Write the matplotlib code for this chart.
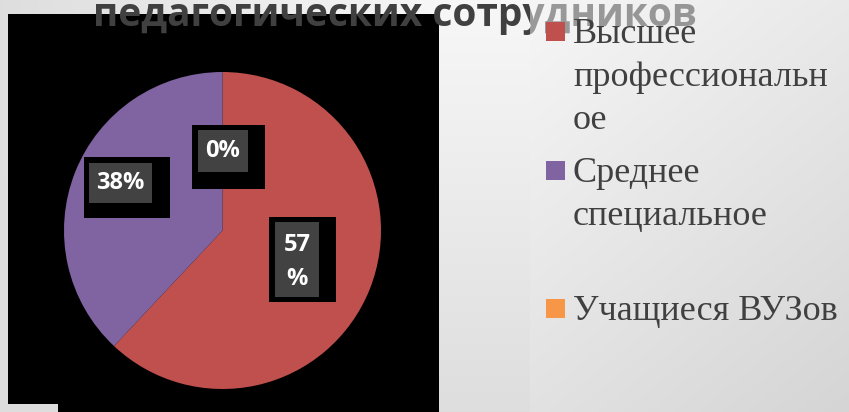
import matplotlib
matplotlib.use('Agg')
import matplotlib.pyplot as plt
import numpy as np
from matplotlib.patches import Rectangle, Polygon

# ---- data ----
title = 'педагогических сотрудников'
categories = ['Высшее профессиональное', 'Среднее специальное', 'Учащиеся ВУЗов']
legend_lines = [['Высшее', 'профессиональн', 'ое'],
                ['Среднее', 'специальное'],
                ['Учащиеся ВУЗов']]
shares = [62, 38, 0]
label_texts = ['57\n%', '38%', '0%']
colors = ['#c0504d', '#8064a2', '#f79646']

W, H = 849, 412
fig = plt.figure(figsize=(W / 100, H / 100), dpi=100)

# background axes in pixel coordinates
bg = fig.add_axes([0, 0, 1, 1])
bg.set_xlim(0, W)
bg.set_ylim(H, 0)
bg.axis('off')

xx, yy = np.meshgrid(np.arange(W) + 0.5, np.arange(H) + 0.5)
v = 0.87 + 0.10 * np.minimum(xx / 440, 1) * (1 - yy / H)
v = np.where(xx > 530, 0.965 - 0.05 * (xx - 530) / 319 - 0.08 * yy / H, v)
img = np.dstack([v, v, v])
bg.imshow(img, extent=(0, W, H, 0), aspect='auto', zorder=0, interpolation='bilinear')

# black chart area
bg.add_patch(Polygon([(8, 14), (439, 14), (439, H), (58, H), (58, 404), (8, 404)],
                     closed=True, facecolor='black', edgecolor='none', zorder=1))

# title (drawn, then partly veiled by the legend panel)
bg.text(395, 26, title, fontsize=28, fontweight='bold', family=['Open Sans', 'DejaVu Sans'],
        color='#404040', ha='center', va='baseline', zorder=5)
veil = img[0:50, 530:W]
bg.imshow(veil, extent=(530, W, 50, 0), aspect='auto', zorder=6, alpha=0.5,
          interpolation='bilinear')
bg.set_xlim(0, W)
bg.set_ylim(H, 0)

# pie axes
cx, cy, r = 222.5, 230.5, 158.5
pax = fig.add_axes([(cx - r) / W, (H - cy - r) / H, 2 * r / W, 2 * r / H])
pax.pie(shares, colors=colors, startangle=90, counterclock=False, radius=1,
        wedgeprops=dict(linewidth=0))
pax.set_xlim(-1, 1)
pax.set_ylim(-1, 1)
pax.set_aspect('auto')
pax.axis('off')
pax.set_zorder(2)

# data labels in boxes (pixel layout)
label_boxes = [  # outer box, inner box, text center
    ((269, 217, 336, 302), (275, 222, 319, 297), (297, 262)),
    ((84, 157, 170, 218), (89, 163, 152, 203), (120.5, 183)),
    ((192, 125, 265, 189), (198, 130, 248, 172), (223, 151)),
]
lab = fig.add_axes([0, 0, 1, 1])
lab.set_xlim(0, W)
lab.set_ylim(H, 0)
lab.axis('off')
lab.set_zorder(3)
for txt, (ob, ib, tc) in zip(label_texts, label_boxes):
    lab.add_patch(Rectangle((ob[0], ob[1]), ob[2] - ob[0], ob[3] - ob[1],
                            facecolor='black', edgecolor='none'))
    lab.add_patch(Rectangle((ib[0], ib[1]), ib[2] - ib[0], ib[3] - ib[1],
                            facecolor='#424242', edgecolor='none'))
    lab.text(tc[0], tc[1], txt, fontsize=17, fontweight='bold', color='white',
             family=['Open Sans', 'DejaVu Sans'], ha='center', va='center',
             linespacing=1.55, multialignment='center')

# legend
first_baselines = [43, 182, 320]
line_step = 43
for lines, col, b0 in zip(legend_lines, colors, first_baselines):
    lab.add_patch(Rectangle((546, b0 - 21), 19, 19, facecolor=col, edgecolor='none'))
    for i, ln in enumerate(lines):
        lab.text(573, b0 + i * line_step, ln, fontsize=26, color='#404040',
                 family=['Liberation Serif', 'DejaVu Serif'], ha='left', va='baseline')

fig.savefig('out.png', dpi=100)
